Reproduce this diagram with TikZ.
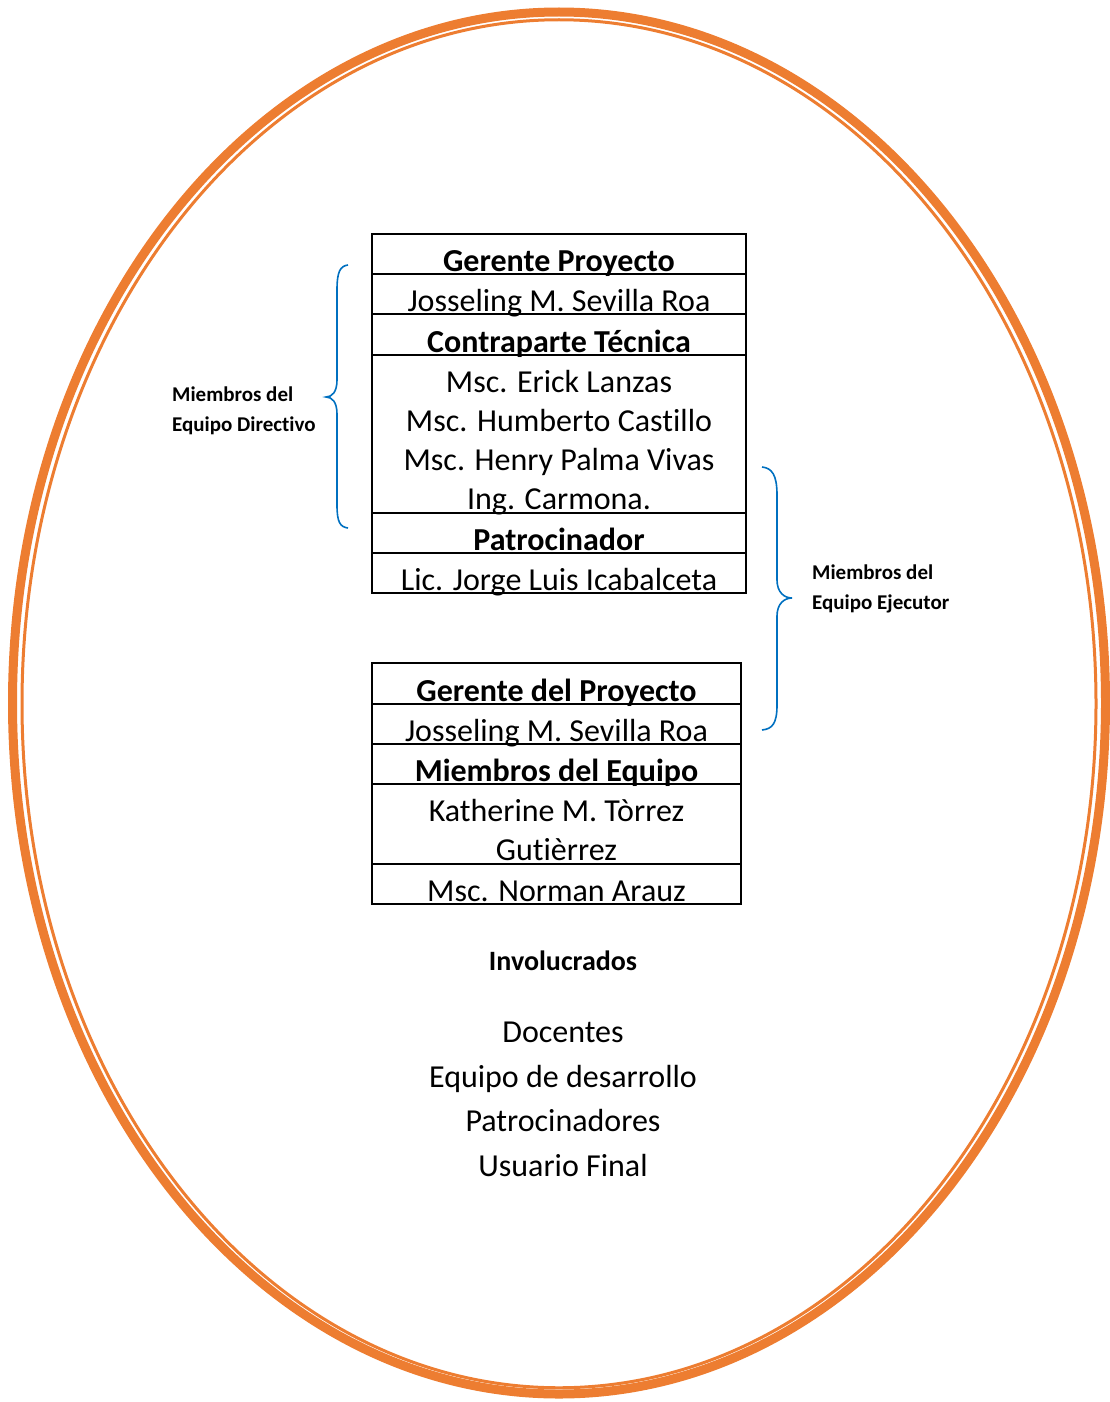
\documentclass[tikz,border=0pt]{standalone}
\usepackage{fontspec}
\setmainfont[Ligatures={NoCommon}]{Carlito}
\definecolor{orng}{HTML}{ED7D31}
\definecolor{brc}{HTML}{0070C0}
\begin{document}
\begin{tikzpicture}[x=1pt,y=-1pt,
  big/.style={font=\fontsize{32}{39}\selectfont, anchor=base, inner sep=0pt},
  bigb/.style={big, font=\fontsize{32}{39}\selectfont\bfseries},
  lab/.style={font=\fontsize{21}{26}\selectfont\bfseries, anchor=base west, inner sep=0pt},
  tline/.style={line width=2pt, black},
  bracestyle/.style={line width=1.6pt, brc},
  ring/.style={orng}]
\useasboundingbox (0,0) rectangle (1110,1402);
% ellipse
\draw[ring, line width=9pt] (559,703) ellipse [x radius=546.5, y radius=691];
\draw[ring, line width=3pt] (559,703.75) ellipse [x radius=537, y radius=684];
% table 1
\draw[tline] (372,234) rectangle (746,593);
\foreach \yy in {274,314,355,513,553} \draw[tline] (372,\yy) -- (746,\yy);
\node[bigb] (t1a) at (559,271) {Gerente Proyecto};
\node[big]  (t1b) at (559,311) {Josseling M. Sevilla Roa};
\node[bigb] (t1c) at (559,352) {Contraparte Técnica};
\node[big]  (t1d) at (559,392) {Msc. Erick Lanzas};
\node[big]  (t1e) at (559,431) {Msc. Humberto Castillo};
\node[big]  (t1f) at (559,470) {Msc. Henry Palma Vivas};
\node[big]  (t1g) at (559,509) {Ing. Carmona.};
\node[bigb] (t1h) at (559,550) {Patrocinador};
\node[big]  (t1i) at (559,590) {Lic. Jorge Luis Icabalceta};
% table 2
\draw[tline] (372,663) rectangle (741,904);
\foreach \yy in {704,744,784,864} \draw[tline] (372,\yy) -- (741,\yy);
\node[bigb] (t2a) at (556.5,701) {Gerente del Proyecto};
\node[big]  (t2b) at (556.5,741) {Josseling M. Sevilla Roa};
\node[bigb] (t2c) at (556.5,781) {Miembros del Equipo};
\node[big]  (t2d) at (556.5,821) {Katherine M. Tòrrez};
\node[big]  (t2e) at (556.5,860) {Gutièrrez};
\node[big]  (t2f) at (556.5,901) {Msc. Norman Arauz};
% left brace
\coordinate (lbt) at (348,265);
\coordinate (lbtip) at (326,397);
\coordinate (lbb) at (348,528);
\draw[bracestyle] (lbt) .. controls (340,266) and (337,272) .. (337,290)
  -- (337,380) .. controls (337,392) and (332,397) .. (lbtip)
  .. controls (332,397) and (337,402) .. (337,414)
  -- (337,505) .. controls (337,522) and (340,527) .. (lbb);
\node[lab] (l1) at (172,401) {Miembros del};
\node[lab] (l2) at (172,431) {Equipo Directivo};
% right brace
\coordinate (rbt) at (762,467);
\coordinate (rbtip) at (792,598);
\coordinate (rbb) at (762,730);
\draw[bracestyle] (rbt) .. controls (772,468) and (777,475) .. (777,495)
  -- (777,580) .. controls (777,592) and (784,598) .. (rbtip)
  .. controls (784,598) and (777,604) .. (777,616)
  -- (777,705) .. controls (777,724) and (772,729) .. (rbb);
\node[lab] (r1) at (812,579) {Miembros del};
\node[lab] (r2) at (812,609) {Equipo Ejecutor};
% bottom list
\node[font=\fontsize{28}{34}\selectfont\bfseries, anchor=base, inner sep=0pt] (inv) at (563,970) {Involucrados};
\node[big] (b1) at (563,1042) {Docentes};
\node[big] (b2) at (563,1087) {Equipo de desarrollo};
\node[big] (b3) at (563,1131) {Patrocinadores};
\node[big] (b4) at (563,1176) {Usuario Final};
\end{tikzpicture}
\end{document}
